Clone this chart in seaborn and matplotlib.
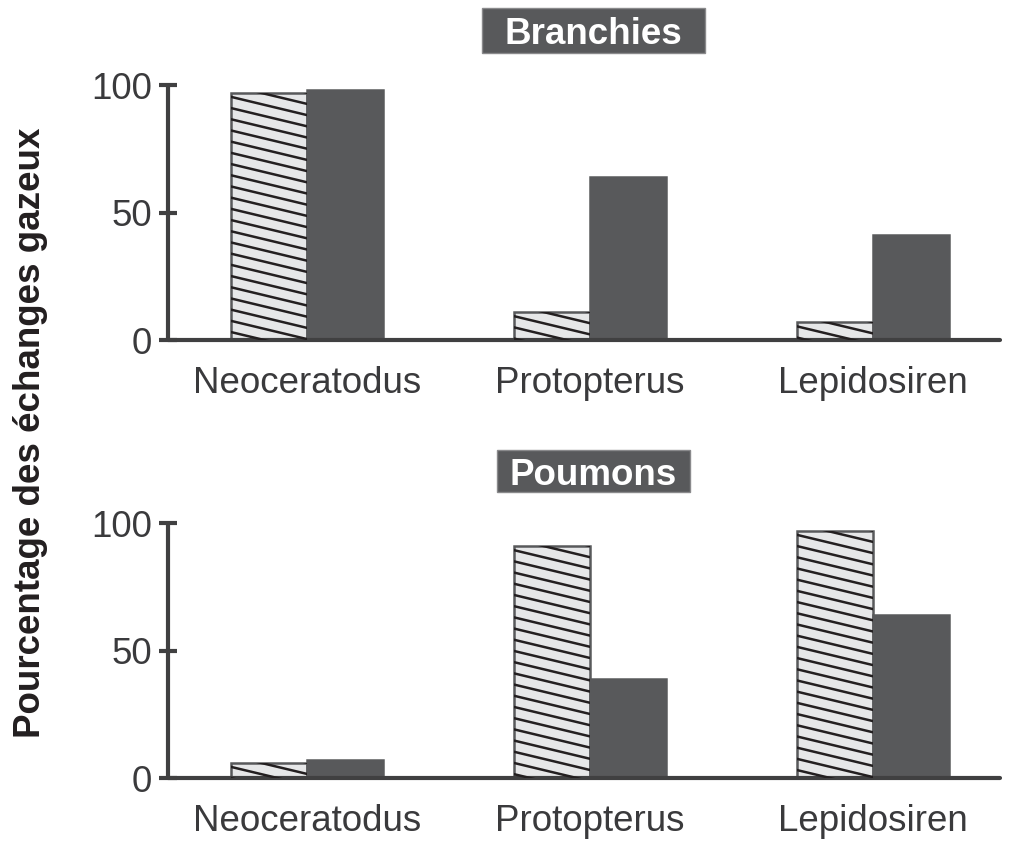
import numpy as np
import pandas as pd
import matplotlib
matplotlib.use("Agg")
import matplotlib.pyplot as plt
from matplotlib.lines import Line2D
from matplotlib.patches import Rectangle
import seaborn as sns

# data
species = ["Neoceratodus", "Protopterus", "Lepidosiren"]
series = ["hachuré", "foncé"]
branchies_hatched = [97, 11, 7]
branchies_dark = [98, 64, 41]
poumons_hatched = [6, 91, 97]
poumons_dark = [7, 39, 64]
yticks = [0, 50, 100]

sns.set_theme(style="white")
plt.rcParams["font.family"] = ["Liberation Sans", "DejaVu Sans"]

DARK = "#58595b"
LIGHT = "#e6e7e8"
INK = "#231f20"
TXT = "#3a3a3c"
AXIS = "#404041"
FS = 26.5

fig = plt.figure(figsize=(10.09, 8.41), dpi=100)
ax_top = fig.add_axes([0.1665, 0.5957, 0.8245, 0.3032])
ax_bot = fig.add_axes([0.1665, 0.0749, 0.8245, 0.3032])


def long_df(hatched, dark):
    return pd.DataFrame({
        "espece": species * 2,
        "serie": [series[0]] * 3 + [series[1]] * 3,
        "valeur": hatched + dark,
    })


def add_hatch(ax, patch, slope=0.24, spacing=11.2):
    # shallow diagonal hatch drawn in pixel space, clipped to the bar
    inv = ax.transData.inverted()
    (x0, y0), (x1, y1) = ax.transData.transform(
        [(patch.get_x(), patch.get_y()),
         (patch.get_x() + patch.get_width(), patch.get_y() + patch.get_height())])
    w = x1 - x0
    drop = slope * w
    start = y1 + drop + spacing
    while start > y0 - spacing:
        pts = inv.transform([(x0, start), (x1, start - drop)])
        ln = Line2D(pts[:, 0], pts[:, 1], color=INK, lw=1.8, zorder=3)
        ax.add_line(ln)
        ln.set_clip_path(patch)
        start -= spacing


# title boxes in figure pixel space: (x0, y0_top, x1, y1_bottom)
boxes = {"Branchies": (482, 8, 705, 53), "Poumons": (497, 450, 690, 492)}

for ax, (h, d), title in [(ax_top, (branchies_hatched, branchies_dark), "Branchies"),
                          (ax_bot, (poumons_hatched, poumons_dark), "Poumons")]:
    df = long_df(h, d)
    sns.barplot(data=df, x="espece", y="valeur", hue="serie", hue_order=series,
                palette=[LIGHT, DARK], width=0.537, gap=0, legend=False,
                saturation=1, ax=ax, edgecolor=DARK, linewidth=1.8, zorder=2)
    ax.set_xlim(-0.491, 2.449)
    ax.set_ylim(0, 100)
    ax.set_yticks(yticks)
    ax.set_xlabel("")
    ax.set_ylabel("")
    for s in ["top", "right"]:
        ax.spines[s].set_visible(False)
    for s in ["left", "bottom"]:
        ax.spines[s].set_linewidth(3)
        ax.spines[s].set_color(AXIS)
        ax.spines[s].set_capstyle("round")
    ax.tick_params(axis="y", direction="inout", length=13, width=3, color=AXIS,
                   labelsize=FS, labelcolor=TXT, pad=5, left=True)
    ax.tick_params(axis="x", length=0, labelsize=FS, labelcolor=TXT, pad=19)

    bx0, by0, bx1, by1 = boxes[title]
    W, H = 1009, 841
    fig.add_artist(Rectangle((bx0 / W, 1 - by1 / H), (bx1 - bx0) / W, (by1 - by0) / H,
                             transform=fig.transFigure, fc=DARK, ec="#8a8a8c", lw=1))
    fig.text((bx0 + bx1) / 2 / W, 1 - (by0 + by1) / 2 / H, title, ha="center",
             va="center_baseline", fontsize=FS, fontweight="bold", color="white")

fig.canvas.draw()
for ax in (ax_top, ax_bot):
    light_patches = [p for p in ax.patches if p.get_facecolor()[0] > 0.8]
    for p in light_patches:
        add_hatch(ax, p)

fig.text(0.03, 0.485, "Pourcentage des échanges gazeux", rotation=90,
         ha="center", va="center", fontsize=FS, fontweight="bold", color=INK)

fig.savefig("out.png", dpi=100, facecolor="white")
